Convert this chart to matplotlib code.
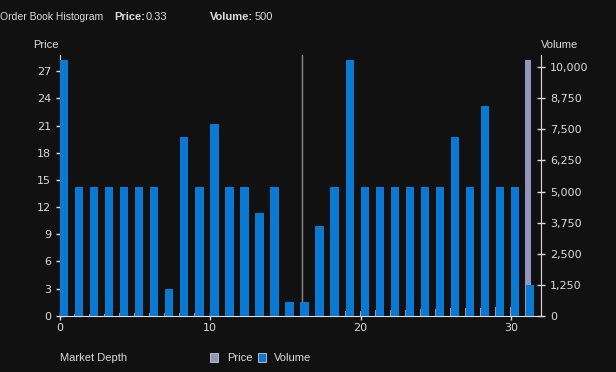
import matplotlib
matplotlib.use('Agg')
import matplotlib.pyplot as plt
from matplotlib.ticker import FuncFormatter
from matplotlib.patches import Rectangle

# market depth levels
levels = list(range(32))

# volume per level (right axis)
volume = [10300, 5200, 5200, 5200, 5200, 5200, 5200, 1075, 7180, 5200,
          7720, 5200, 5200, 4135, 5200, 550, 550, 3610, 5200, 10300,
          5200, 5200, 5200, 5200, 5200, 5200, 7180, 5200, 8440, 5200,
          5200, 1235]

# price per level (left axis)
price = [0.1, 0.15, 0.2, 0.2, 0.25, 0.25, 0.3, 0.3, 0.3, 0.35,
         0.35, 0.4, 0.4, 0.4, 0.45, 0.45, 0.5, 0.3, 0.4, 0.55,
         0.55, 0.6, 0.6, 0.65, 0.7, 0.75, 0.8, 0.85, 0.9, 0.95,
         1.0, 28.3]

price_ticks = [0, 3, 6, 9, 12, 15, 18, 21, 24, 27]
volume_ticks = [0, 1250, 2500, 3750, 5000, 6250, 7500, 8750, 10000]
depth_ticks = [0, 10, 20, 30]
marker_level = 16.1

BG = '#111111'
FG = '#dcdcdc'
BLUE = '#0a79d4'
GREY = '#9394bf'
HEAD = 'Liberation Sans'

fig = plt.figure(figsize=(6.16, 3.72), dpi=100, facecolor=BG)
ax = fig.add_axes([0.0974, 0.1513, 0.7806, 0.7007])
ax.set_facecolor(BG)
ax2 = ax.twinx()

ax.bar([x - 0.05 for x in levels], price, width=0.38, align='edge', color=GREY, zorder=1)
ax2.bar(levels, volume, width=0.55, align='edge', color=BLUE, zorder=2)
ax.set_zorder(ax2.get_zorder() - 1)
ax2.patch.set_visible(False)
ax.patch.set_visible(True)

ax.axvline(marker_level, color='#8a8a8a', lw=1, zorder=3)

ax.set_xlim(0, 32)
ax.set_ylim(0, 28.8)
ax2.set_ylim(0, 10495)

ax.set_xticks(depth_ticks)
ax.set_yticks(price_ticks)
ax2.set_yticks(volume_ticks)
ax2.yaxis.set_major_formatter(FuncFormatter(lambda v, p: f'{int(v):,}'))

for a in (ax, ax2):
    for s in a.spines.values():
        s.set_visible(False)
    a.tick_params(colors=FG, labelsize=8, direction='inout', length=6, width=1)
ax.spines['left'].set_visible(True)
ax.spines['bottom'].set_visible(True)
ax2.spines['right'].set_visible(True)
ax.spines['left'].set_color(FG)
ax.spines['bottom'].set_color(FG)
ax2.spines['right'].set_color(FG)
ax.tick_params(axis='x', pad=2)

fig.text(0.0, 0.955, 'Order Book Histogram', color=FG, fontsize=7.5, family=HEAD, va='center')
fig.text(0.185, 0.955, 'Price:', color=FG, fontsize=8, family=HEAD, fontweight='bold', va='center')
fig.text(0.236, 0.955, '0.33', color=FG, fontsize=8, family=HEAD, va='center')
fig.text(0.340, 0.955, 'Volume:', color=FG, fontsize=8, family=HEAD, fontweight='bold', va='center')
fig.text(0.413, 0.955, '500', color=FG, fontsize=8, family=HEAD, va='center')
fig.text(0.053, 0.880, 'Price', color=FG, fontsize=8, family=HEAD, va='center')
fig.text(0.878, 0.880, 'Volume', color=FG, fontsize=8, family=HEAD, va='center')
fig.text(0.097, 0.038, 'Market Depth', color=FG, fontsize=8, family=HEAD, va='center')

# legend
fig.patches.append(Rectangle((0.341, 0.028), 0.013, 0.022, transform=fig.transFigure,
                             facecolor=GREY, edgecolor='#cccccc', lw=0.6))
fig.text(0.368, 0.038, 'Price', color=FG, fontsize=8, family=HEAD, va='center')
fig.patches.append(Rectangle((0.419, 0.028), 0.013, 0.022, transform=fig.transFigure,
                             facecolor=BLUE, edgecolor='#cccccc', lw=0.6))
fig.text(0.445, 0.038, 'Volume', color=FG, fontsize=8, family=HEAD, va='center')

fig.savefig('out.png', dpi=100, facecolor=BG)
